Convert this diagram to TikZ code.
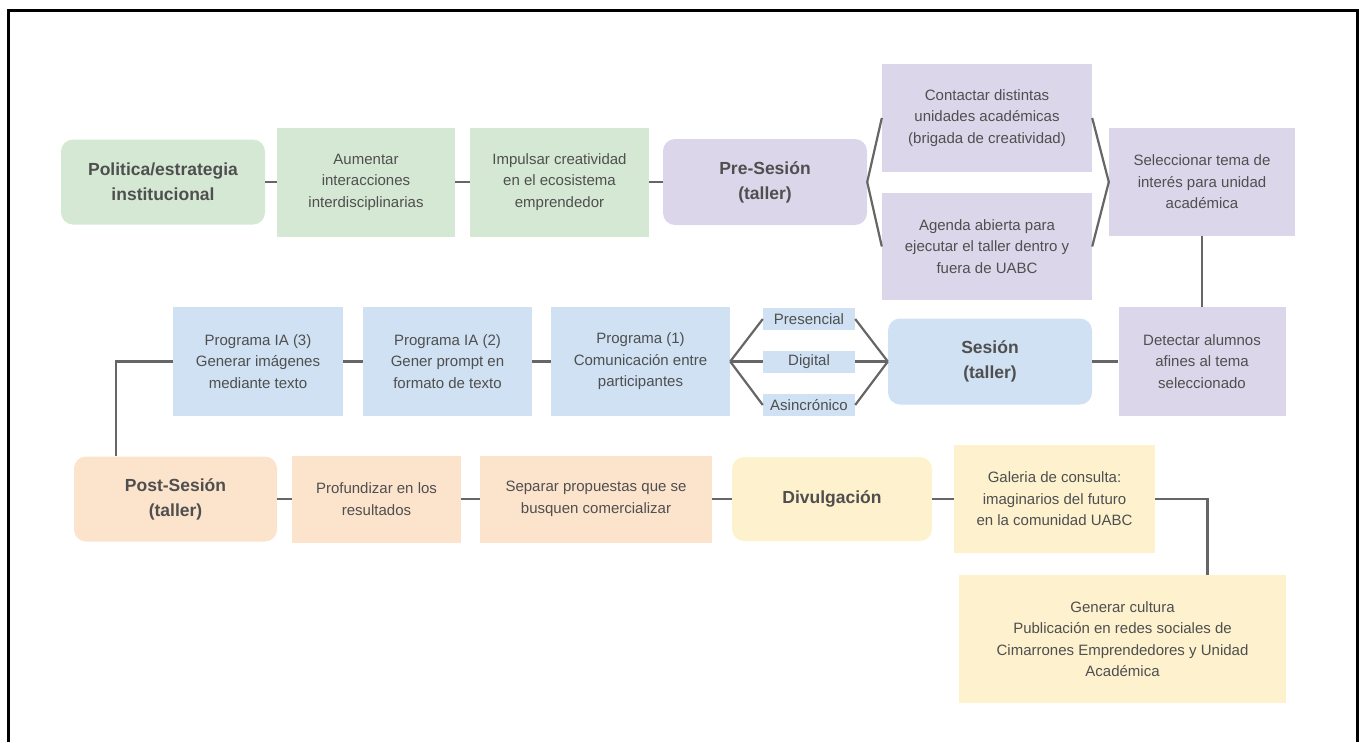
\documentclass[tikz,border=0pt]{standalone}
\usepackage{fontspec}
\setmainfont{Liberation Sans}

\definecolor{verde}{HTML}{D5E8D4}
\definecolor{morado}{HTML}{DCD6EB}
\definecolor{azul}{HTML}{CFE1F2}
\definecolor{durazno}{HTML}{FCE3CC}
\definecolor{amarillo}{HTML}{FEF1CE}
\definecolor{texto}{HTML}{4F4F4F}
\definecolor{linea}{HTML}{666666}

\tikzset{
    bx/.style={rectangle, fill=#1},
    fase/.style={rectangle, rounded corners=12pt, fill=#1, font=\fontsize{17.5}{25}\selectfont\bfseries},
    tam/.style n args={2}{minimum width=#1, minimum height=#2},
    ln/.style={draw=linea, line width=2.2pt},
}

\begin{document}
\begin{tikzpicture}[
    x=1pt, y=-1pt,
    every node/.style={font=\fontsize{15}{21.5}\selectfont, text=texto, align=center, inner sep=0pt},
]
    \useasboundingbox (0,0) rectangle (1359,742);

    % Marco
    \draw[line width=3pt] (8.5,742) -- (8.5,10) -- (1357.5,10) -- (1357.5,742);

    % Fila 1: pre-sesion
    \node[fase=verde, tam={204pt}{85pt}]   (pol) at (163,182)   {Politica/estrategia\\institucional};
    \node[bx=verde, tam={178pt}{109pt}]    (aum) at (366,182)   {Aumentar\\interacciones\\interdisciplinarias};
    \node[bx=verde, tam={179pt}{109pt}]    (imp) at (559.5,182) {Impulsar creatividad\\en el ecosistema\\emprendedor};
    \node[fase=morado, tam={204pt}{86pt}]  (pre) at (765,182)   {Pre-Sesión\\(taller)};
    \node[bx=morado, tam={210pt}{108pt}]   (con) at (987,118)   {Contactar distintas\\unidades académicas\\(brigada de creatividad)};
    \node[bx=morado, tam={210pt}{107pt}]   (age) at (987,246.5) {Agenda abierta para\\ejecutar el taller dentro y\\fuera de UABC};
    \node[bx=morado, tam={186pt}{108pt}]   (sel) at (1202,182)  {Seleccionar tema de\\interés para unidad\\académica};

    % Fila 2: sesion
    \node[bx=morado, tam={167pt}{109pt}]   (det) at (1202,361.5) {Detectar alumnos\\afines al tema\\seleccionado};
    \node[fase=azul, tam={204pt}{86pt}]    (ses) at (990,361.5)  {Sesión\\(taller)};
    \node[bx=azul, tam={92pt}{22pt}]       (prs) at (809,319)    {Presencial};
    \node[bx=azul, tam={92pt}{22pt}]       (dig) at (809,361.5)  {Digital};
    \node[bx=azul, tam={92pt}{22pt}]       (asi) at (809,405)    {Asincrónico};
    \node[bx=azul, tam={179pt}{109pt}]     (p1) at (640.5,361.5) {Programa (1)\\Comunicación entre\\participantes};
    \node[bx=azul, tam={169pt}{109pt}]     (p2) at (447.5,361.5) {Programa IA (2)\\Gener prompt en\\formato de texto};
    \node[bx=azul, tam={170pt}{109pt}]     (p3) at (258,361.5)   {Programa IA (3)\\Generar imágenes\\mediante texto};

    % Fila 3: post-sesion
    \node[fase=durazno, tam={203pt}{85pt}] (post) at (175.5,499) {Post-Sesión\\(taller)};
    \node[bx=durazno, tam={169pt}{87pt}]   (pro) at (376.5,499)  {Profundizar en los\\resultados};
    \node[bx=durazno, tam={232pt}{87pt}]   (sep) at (596,499)    {Separar propuestas que se\\busquen comercializar};
    \node[fase=amarillo, tam={200pt}{84pt}] (div) at (832,499)   {Divulgación};
    \node[bx=amarillo, tam={201pt}{108pt}] (gal) at (1054.5,499) {Galeria de consulta:\\imaginarios del futuro\\en la comunidad UABC};
    \node[bx=amarillo, tam={327pt}{128pt}] (gen) at (1122.5,639) {Generar cultura\\Publicación en redes sociales de\\Cimarrones Emprendedores y Unidad\\Académica};

    % Conexiones fila 1
    \draw[ln] (pol) -- (aum);
    \draw[ln] (aum) -- (imp);
    \draw[ln] (imp) -- (pre);
    \draw[ln] (pre.east) -- (con.west);
    \draw[ln] (pre.east) -- (age.west);
    \draw[ln] (con.east) -- (sel.west);
    \draw[ln] (age.east) -- (sel.west);

    % sel -> det
    \draw[ln] (sel) -- (det);

    % Conexiones fila 2
    \draw[ln] (det) -- (ses);
    \draw[ln] (ses.west) -- (prs.east);
    \draw[ln] (ses.west) -- (dig.east);
    \draw[ln] (ses.west) -- (asi.east);
    \draw[ln] (prs.west) -- (p1.east);
    \draw[ln] (dig.west) -- (p1.east);
    \draw[ln] (asi.west) -- (p1.east);
    \draw[ln] (p1) -- (p2);
    \draw[ln] (p2) -- (p3);

    % p3 -> post
    \draw[ln] (p3.west) -| ([xshift=42pt]post.north west);

    % Conexiones fila 3
    \draw[ln] (post) -- (pro);
    \draw[ln] (pro) -- (sep);
    \draw[ln] (sep) -- (div);
    \draw[ln] (div) -- (gal);
    \draw[ln] (gal.east) -| ([xshift=85pt]gen.north);

\end{tikzpicture}
\end{document}
